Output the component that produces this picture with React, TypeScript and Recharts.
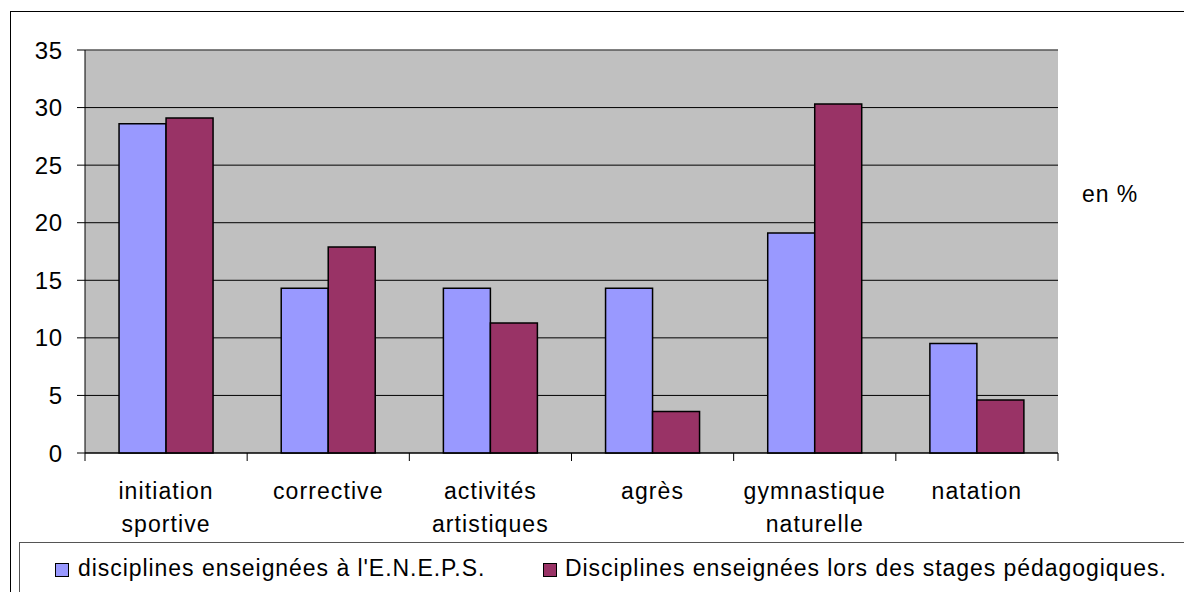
import React from "react";
import {
    BarChart,
    Bar,
    CartesianGrid,
    XAxis,
    YAxis,
    ReferenceLine,
} from "recharts";

const categories = [
    "initiation sportive",
    "corrective",
    "activités artistiques",
    "agrès",
    "gymnastique naturelle",
    "natation",
];
const enepsValues = [28.6, 14.3, 14.3, 14.3, 19.1, 9.5];
const stagesValues = [29.1, 17.9, 11.3, 3.6, 30.3, 4.6];
const yTicks = [0, 5, 10, 15, 20, 25, 30, 35];
const seriesNames = [
    "disciplines enseignées à l'E.N.E.P.S.",
    "Disciplines enseignées lors des stages pédagogiques.",
];
const unitLabel = "en %";

const W = 1184;
const H = 592;
const FONT = "'Liberation Sans', Arial, sans-serif";
const BLUE = "#9999ff";
const PLUM = "#993366";
const margin = { top: 50, right: 126, left: 10, bottom: 49 };
const Y_AXIS_W = 75;
const PLOT_W = W - margin.left - Y_AXIS_W - margin.right;
const HALF_BAND = PLOT_W / categories.length / 2;

const data = categories.map((name, i) => ({
    name,
    eneps: enepsValues[i],
    stages: stagesValues[i],
}));

function CategoryTick(props: any) {
    const { x, y, payload, index } = props;
    const words = String(payload.value).split(" ");
    return (
        <g>
            <line x1={x - HALF_BAND} x2={x - HALF_BAND} y1={y} y2={y + 8} stroke="#000" />
            {index === categories.length - 1 && (
                <line x1={x + HALF_BAND} x2={x + HALF_BAND} y1={y} y2={y + 8} stroke="#000" />
            )}
            {words.map((w, i) => (
                <text
                    key={i}
                    x={x}
                    y={y + 46 + i * 33}
                    textAnchor="middle"
                    fontSize={23}
                    letterSpacing={1.1}
                    fontFamily={FONT}
                    fill="#000"
                >
                    {w}
                </text>
            ))}
        </g>
    );
}

export default function App() {
    return (
        <div style={{ position: "absolute", left: 0, top: 0, width: W, height: H, background: "#fff", overflow: "hidden" }}>
            <BarChart
                width={W}
                height={H}
                data={data}
                margin={margin}
                barCategoryGap="21%"
                barGap={0}
            >
                <CartesianGrid vertical={false} stroke="#000" fill="#c0c0c0" />
                <XAxis
                    dataKey="name"
                    height={90}
                    interval={0}
                    tickLine={false}
                    tickSize={0}
                    tickMargin={0}
                    axisLine={{ stroke: "#000" }}
                    tick={<CategoryTick />}
                />
                <YAxis
                    width={Y_AXIS_W}
                    domain={[0, 35]}
                    ticks={yTicks}
                    interval={0}
                    tickSize={8}
                    tickMargin={14}
                    axisLine={{ stroke: "#000" }}
                    tickLine={{ stroke: "#000" }}
                    tick={{ fill: "#000", fontSize: 24, fontFamily: FONT, letterSpacing: 0.8 }}
                />
                <YAxis
                    yAxisId="r"
                    orientation="right"
                    width={0}
                    domain={[0, 35]}
                    tick={false}
                    tickLine={false}
                    axisLine={{ stroke: "#808080" }}
                />
                <ReferenceLine y={35} stroke="#808080" />
                <Bar dataKey="eneps" fill={BLUE} stroke="#000" strokeWidth={1.5} isAnimationActive={false} />
                <Bar dataKey="stages" fill={PLUM} stroke="#000" strokeWidth={1.5} isAnimationActive={false} />
            </BarChart>
            <svg
                width={W}
                height={H}
                style={{ position: "absolute", left: 0, top: 0, pointerEvents: "none" }}
                fontFamily={FONT}
            >
                <rect x={10.5} y={11.5} width={W + 20} height={H + 20} fill="none" stroke="#000" />
                <rect x={19.5} y={542.5} width={W + 20} height={H + 20} fill="none" stroke="#555" />
                <text x={1082} y={202} fontSize={23} letterSpacing={0.9} fill="#000">
                    {unitLabel}
                </text>
                <rect x={55.5} y={563.5} width={13} height={13} fill={BLUE} stroke="#000" />
                <text x={78} y={576} fontSize={23} letterSpacing={0.95} fill="#000">
                    {seriesNames[0]}
                </text>
                <rect x={543.5} y={563.5} width={13} height={13} fill={PLUM} stroke="#000" />
                <text x={565} y={576} fontSize={23} letterSpacing={0.95} fill="#000">
                    {seriesNames[1]}
                </text>
            </svg>
        </div>
    );
}
